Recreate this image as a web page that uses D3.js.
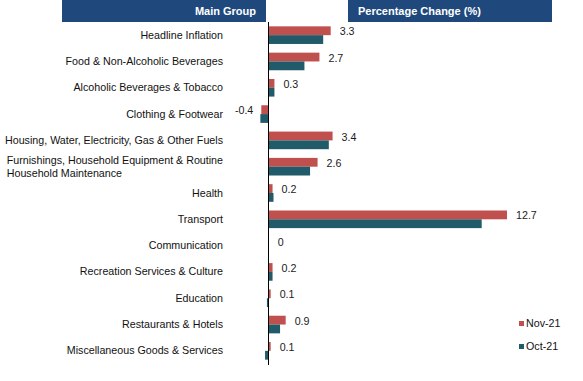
<!DOCTYPE html>
<html>
<head>
<meta charset="utf-8">
<script src="https://cdnjs.cloudflare.com/ajax/libs/d3/7.8.5/d3.min.js"></script>
<style>
  html, body { margin: 0; padding: 0; background: #fff; }
  svg { display: block; }
  text { font-family: "Liberation Sans", Arial, sans-serif; }
</style>
</head>
<body>
<div id="chart"></div>
<script>
const categories = [
  "Headline Inflation",
  "Food & Non-Alcoholic Beverages",
  "Alcoholic Beverages & Tobacco",
  "Clothing & Footwear",
  "Housing, Water, Electricity, Gas & Other Fuels",
  "Furnishings, Household Equipment & Routine\nHousehold Maintenance",
  "Health",
  "Transport",
  "Communication",
  "Recreation Services & Culture",
  "Education",
  "Restaurants & Hotels",
  "Miscellaneous Goods & Services"
];
const nov21 = [3.3, 2.7, 0.3, -0.4, 3.4, 2.6, 0.2, 12.7, 0, 0.2, 0.1, 0.9, 0.1];
const oct21 = [2.9, 1.9, 0.3, -0.45, 3.2, 2.2, 0.25, 11.35, 0, 0.2, -0.1, 0.6, -0.2];
const novLabels = ["3.3", "2.7", "0.3", "-0.4", "3.4", "2.6", "0.2", "12.7", "0", "0.2", "0.1", "0.9", "0.1"];
const seriesNames = ["Nov-21", "Oct-21"];
const headers = ["Main Group", "Percentage Change (%)"];

const W = 583, H = 381;
const colors = { "Nov-21": "#C0504D", "Oct-21": "#215B69" };
const navy = "#1F497D";

const svg = d3.select("#chart").append("svg").attr("width", W).attr("height", H);

// scales
const y = d3.scaleBand().domain(categories).range([22, 364]).paddingInner(0.33).paddingOuter(0.165);
const ySub = d3.scaleBand().domain(seriesNames).range([0, y.bandwidth()]);
const x = d3.scaleLinear().domain([0, 12.7]).range([268.8, 507]);

// headers
const hdr = svg.append("g");
hdr.append("rect").attr("x", 62).attr("y", 0).attr("width", 204).attr("height", 22).attr("fill", navy);
hdr.append("rect").attr("x", 348).attr("y", 0).attr("width", 204).attr("height", 22).attr("fill", navy);
hdr.append("text").attr("x", 256).attr("y", 11).attr("dy", "0.35em").attr("text-anchor", "end")
  .attr("font-size", "11px").attr("font-weight", "bold").attr("fill", "#fff").text(headers[0]);
hdr.append("text").attr("x", 358).attr("y", 11).attr("dy", "0.35em").attr("text-anchor", "start")
  .attr("font-size", "11px").attr("font-weight", "bold").attr("fill", "#fff").text(headers[1]);

// data rows
const rows = categories.map((c, i) => ({ cat: c, "Nov-21": nov21[i], "Oct-21": oct21[i], label: novLabels[i] }));

const g = svg.append("g");
seriesNames.forEach(s => {
  g.selectAll("rect.b" + s).data(rows).enter().append("rect")
    .attr("x", d => Math.min(x(0), x(d[s])))
    .attr("y", d => y(d.cat) + ySub(s))
    .attr("width", d => Math.abs(x(d[s]) - x(0)))
    .attr("height", ySub.bandwidth())
    .attr("fill", colors[s]);
});

// value labels (Nov-21)
g.selectAll("text.val").data(rows).enter().append("text")
  .attr("x", d => d["Nov-21"] < 0 ? x(d["Nov-21"]) - 8 : x(Math.max(0, d["Nov-21"])) + 9)
  .attr("y", d => y(d.cat) + ySub("Nov-21") + ySub.bandwidth() / 2 + 0.8)
  .attr("dy", "0.35em")
  .attr("text-anchor", d => d["Nov-21"] < 0 ? "end" : "start")
  .attr("font-size", "10.7px").attr("fill", "#1a1a1a")
  .text(d => d.label);

// category labels
const labelRight = 223;
rows.forEach(d => {
  const lines = d.cat.split("\n");
  const cy = y(d.cat) + y.bandwidth() / 2;
  const lh = 12.6;
  const y0 = cy - (lines.length - 1) * lh / 2;
  const t1 = svg.append("text").attr("x", labelRight).attr("y", y0).attr("dy", "0.33em")
    .attr("text-anchor", "end").attr("font-size", "10.7px").attr("fill", "#111").text(lines[0]);
  if (lines.length > 1) {
    const len = t1.node().getComputedTextLength();
    for (let k = 1; k < lines.length; k++) {
      svg.append("text").attr("x", labelRight - len).attr("y", y0 + k * lh).attr("dy", "0.33em")
        .attr("text-anchor", "start").attr("font-size", "10.7px").attr("fill", "#111").text(lines[k]);
    }
  }
});

// axis line
svg.append("line").attr("x1", 268.5).attr("x2", 268.5).attr("y1", 22).attr("y2", 365)
  .attr("stroke", "#000").attr("stroke-width", 1);

// legend
const legY = { "Nov-21": 323.5, "Oct-21": 346.5 };
seriesNames.forEach(s => {
  svg.append("rect").attr("x", 519).attr("y", legY[s] - 2.5).attr("width", 5).attr("height", 5).attr("fill", colors[s]);
  svg.append("text").attr("x", 526).attr("y", legY[s]).attr("dy", "0.35em").attr("font-size", "10.7px")
    .attr("fill", "#111").text(s);
});
</script>
</body>
</html>
